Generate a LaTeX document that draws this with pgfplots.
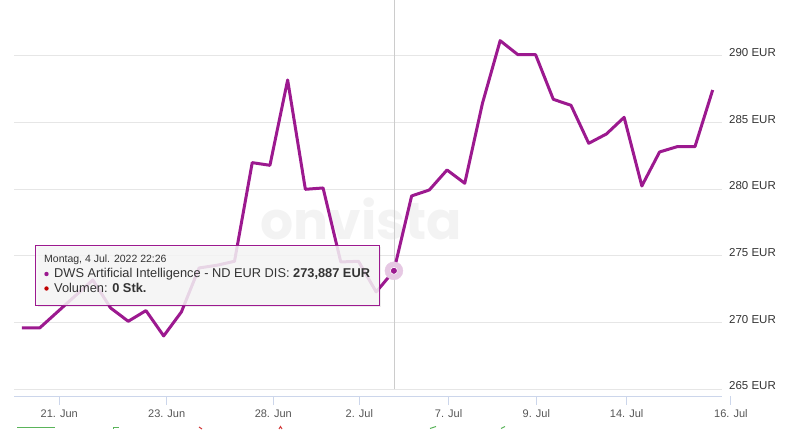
\documentclass[border=0pt]{standalone}
\usepackage{fontspec}
\setmainfont{Liberation Sans}
\newfontfamily\wmfont{Poppins}
\usepackage{pgfplots}
\pgfplotsset{compat=1.18}
\definecolor{linec}{RGB}{156,25,143}
\definecolor{gridc}{RGB}{230,230,230}
\definecolor{axisc}{RGB}{204,214,235}
\definecolor{crossc}{RGB}{204,204,204}
\definecolor{wm}{RGB}{243,243,243}
\definecolor{labc}{RGB}{51,51,51}
\definecolor{xlabc}{RGB}{85,85,85}
\definecolor{tipbg}{RGB}{247,247,247}
\definecolor{tiptext}{RGB}{51,51,51}
\definecolor{volc}{RGB}{192,0,0}
\definecolor{navg}{RGB}{90,180,90}
\definecolor{navr}{RGB}{210,60,60}
\definecolor{haloc}{RGB}{230,200,227}
\begin{document}
\begin{tikzpicture}[x=1pt,y=1pt]
\useasboundingbox (0,0) rectangle (796,429);
% watermark
\node[font=\wmfont\bfseries\fontsize{52}{52}\selectfont, text=wm, anchor=base, inner sep=0pt] at (361.3,189) {onvista};
\begin{axis}[
  at={(14pt,33pt)}, anchor=south west,
  scale only axis, width=708pt, height=396pt,
  xmin=-0.4517, xmax=39.526, ymin=264.494, ymax=294.201,
  clip=false,
  axis x line*=bottom, axis y line*=right,
  y axis line style={draw=none},
  x axis line style={draw=axisc, line width=1pt},
  ymajorgrids, grid style={draw=gridc, line width=1pt},
  ytick={265,270,275,280,285,290},
  /pgf/number format/assume math mode=true,
  yticklabel={\pgfmathprintnumber[fixed,precision=0]{\tick} EUR},
  yticklabel pos=right,
  ytick style={draw=none},
  xtick={2.106,8.17,14.19,19.05,24.09,29.04,34.14},
  xticklabels={21. Jun,23. Jun,28. Jun,2. Jul,7. Jul,9. Jul,14. Jul},
  tick align=outside, major tick length=9pt,
  xtick style={draw=axisc, line width=1pt},
  yticklabel style={font=\fontsize{11.5}{13}\selectfont, text=labc, anchor=west, inner sep=0pt, xshift=-2pt, yshift=3.5pt},
  xticklabel style={font=\fontsize{11}{13}\selectfont, text=xlabc, anchor=north, inner sep=0pt, yshift=-4.5pt},
]
\draw[crossc, line width=1pt] (axis cs:21.06,265) -- (axis cs:21.06,294.201);
\addplot[linec, line width=3pt, line join=round, mark=none] coordinates {
(0,269.6) (1,269.6) (2,270.8) (3,272.0) (4,273.2) (5,271.1) (6,270.1) (7,270.9)
(8,269.0) (9,270.8) (10,274.1) (11,274.3) (12,274.6) (13,282.0) (14,281.8)
(15,288.2) (16,280.0) (17,280.1) (18,274.55) (19,274.6) (20,272.3) (21,273.887)
(22,279.5) (23,279.95) (24,281.45) (25,280.45) (26,286.45) (27,291.15) (28,290.1)
(29,290.1) (30,286.75) (31,286.3) (32,283.45) (33,284.15) (34,285.4) (35,280.25)
(36,282.8) (37,283.2) (38,283.2) (39,287.45)
};
\addplot[only marks, color=haloc, mark=*, mark size=9pt, mark options={draw=haloc, fill=haloc}] coordinates {(21,273.887)};
\addplot[only marks, color=linec, mark=*, mark size=3.5pt, mark options={draw=white, line width=0.6pt, fill=linec}] coordinates {(21,273.887)};
% extra tick outside the plotting range
\draw[axisc, line width=1pt] (axis cs:40.03,264.494) -- ([yshift=-9pt]axis cs:40.03,264.494);
\node[anchor=north, inner sep=0pt, yshift=-13.5pt, font=\fontsize{11}{13}\selectfont, text=xlabc] at (axis cs:40.03,264.494) {16. Jul};
\end{axis}
% tooltip
\fill[black, opacity=0.07] (37.7,121.9) rectangle (381.3,181.7);
\draw[draw=linec, line width=0.8pt, fill=tipbg, fill opacity=0.85] (35.7,123.9) rectangle (379.3,183.7);
\node[anchor=base west, inner sep=0pt, font=\fontsize{10.5}{12}\selectfont, text=tiptext] at (44,166.5) {Montag, 4 Jul. 2022 22:26};
\fill[linec] (46.5,155) circle (2.2);
\node[anchor=base west, inner sep=0pt, font=\fontsize{12.8}{14}\selectfont, text=tiptext] at (54,151) {DWS Artificial Intelligence - ND EUR DIS: \textbf{273,887 EUR}};
\fill[volc] (46.5,140.5) circle (2.2);
\node[anchor=base west, inner sep=0pt, font=\fontsize{12.8}{14}\selectfont, text=tiptext] at (54,136.5) {Volumen: \textbf{0 Stk.}};
% navigator remnants at the bottom edge
\draw[navg, line width=1pt] (17,1.5) -- (55,1.5);
\draw[navg, line width=1pt] (113,0) -- (113,2) -- (119,2);
\draw[navr, line width=1pt] (199,2) -- (202,0);
\draw[navr, line width=1pt] (279,0) -- (280.5,2.5) -- (282,0);
\draw[navg, line width=1pt] (430,0.5) -- (436,2.5);
\draw[navg, line width=1pt] (501,0.5) -- (505,2.5);
\end{tikzpicture}
\end{document}
